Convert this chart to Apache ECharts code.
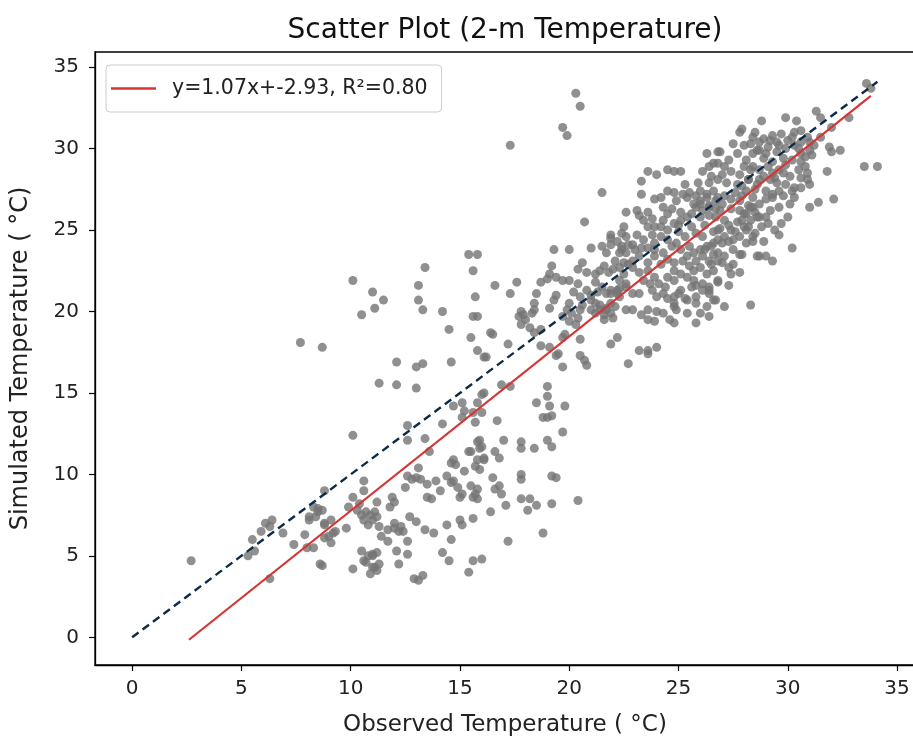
<!DOCTYPE html>
<html>
<head>
<meta charset="utf-8">
<script src="https://cdn.jsdelivr.net/npm/echarts@6/dist/echarts.min.js"></script>
<style>
html,body{margin:0;padding:0;background:#fff;}
#chart{width:913px;height:738px;}
</style>
</head>
<body>
<div id="chart"></div>
<script>
// Observed vs simulated 2-m temperature (°C)
const lowPoints = [
[2.7,4.7],[5.3,5.0],[5.6,5.3],[5.5,6.0],[5.9,6.5],[6.1,7.0],[6.4,7.2],[6.3,6.8],[6.9,6.4],[7.4,5.7],[6.3,3.6],
[7.9,6.3],[8.1,7.2],[8.4,7.4],[8.5,7.9],[8.7,7.8],[8.8,9.0],[8.0,5.5],[8.3,5.5],[8.6,4.5],[8.8,6.1],[9.1,5.8],
[9.0,6.2],[9.3,6.5],[9.1,7.2],[8.8,7.0],[8.7,4.4],[8.8,6.9],[9.2,6.4],[8.3,8.0],[8.5,7.7],[8.1,7.4],[9.8,6.7],
[9.9,8.0],[10.1,8.6],[10.4,8.2],[10.3,7.8],[10.5,7.5],[10.7,7.7],[10.6,7.2],[10.8,6.9],[11.0,7.2],[10.9,7.5],
[11.1,7.7],[11.2,7.4],[10.6,9.0],[10.6,9.6],[11.2,8.3],[11.9,8.6],[12.0,8.3],[11.8,8.0],[11.3,6.8],[11.4,6.2],
[11.7,6.6],[12.0,7.0],[12.0,6.7],[12.3,6.8],[12.4,6.5],[11.7,5.9],[12.2,6.5],[12.7,7.4],[13.0,7.1],
[12.9,3.6],[13.1,3.5],[13.3,3.8],[13.4,6.6],[13.8,6.4],[12.6,5.9],[12.1,5.3],[12.6,5.1],[12.2,4.5],[11.3,4.5],
[11.1,4.3],[10.9,3.9],[10.1,4.2],[10.5,5.3],[10.6,4.7],[11.0,5.0],[11.2,5.2],[10.8,5.0],[11.0,5.1],[10.7,4.6],
[11.0,4.3],[11.2,4.1],[7.7,18.1],[8.7,17.8],[10.1,12.4]
];
const midPoints = [
[15.4,23.5],[15.8,23.5],[15.6,22.5],[13.4,22.7],[10.1,21.9],[11.0,21.2],[11.5,20.7],[11.1,20.2],[10.5,19.8],
[13.1,21.6],[13.1,20.7],[13.3,20.1],[14.2,20.0],[14.5,18.9],[15.7,20.9],[15.6,19.7],[15.8,19.7],[15.5,18.4],
[15.8,17.6],[16.1,17.2],[16.4,18.7],[16.6,21.6],[17.3,21.1],[17.6,21.8],[17.2,18.0],[12.1,16.9],[13.0,16.6],
[13.3,16.8],[14.6,16.9],[11.3,15.6],[12.1,15.5],[13.0,15.3],[12.6,13.0],[12.6,12.1],[13.4,12.2],[14.2,13.1],
[13.6,11.4],[14.7,14.2],[15.1,14.4],[15.2,13.9],[15.8,14.4],[15.6,13.8],[16.0,14.9],[16.0,13.8],[15.7,13.2],
[16.7,13.3],[16.9,15.5],[17.3,15.4],[15.9,12.1],[16.0,11.7],[17.0,12.1],[15.4,11.4],[16.1,10.9],[14.7,10.9],
[14.6,10.7],[14.8,10.6],[15.2,10.2],[15.7,10.5],[15.9,10.3],[14.4,9.9],[14.6,9.5],[13.9,9.6],[14.1,9.0],
[12.6,9.9],[12.8,9.7],[13.0,9.8],[13.2,9.7],[12.5,9.2],[13.5,9.4],[13.5,8.6],[13.7,8.5],[14.7,9.6],[14.9,9.2],
[15.1,8.8],[15.0,8.6],[15.5,9.3],[15.7,8.8],[15.8,9.1],[15.6,8.6],[15.8,8.5],[16.5,9.8],[16.8,9.3],[16.6,9.1],
[16.9,8.8],[16.4,7.7],[17.1,8.1],[17.8,10.0],[17.8,9.7],[17.8,12.0],[17.8,11.6],[18.4,11.6],[19.0,12.1],
[19.2,11.7],[19.0,15.4],[19.0,14.8],[19.1,14.2],[18.5,14.4],[18.8,13.5],[19.0,13.5],[19.2,13.6],[19.8,14.2],
[19.7,12.6],[17.8,8.5],[18.2,8.5],[18.1,7.8],[18.5,8.1],[19.2,9.9],[19.4,9.8],[19.2,8.2],[18.8,6.4],[17.2,5.9],
[20.4,8.4],[15.6,7.3],[15.0,7.2],[15.1,6.9],[14.4,6.9],[14.6,6.0],[14.2,5.2],[14.5,4.7],[15.6,4.7],[16.0,4.8],
[15.4,4.0],[15.1,13.5],[15.8,12.0],[15.9,11.6],[15.8,10.9],[16.1,11.0],[15.5,11.4],[13.1,10.4],[16.6,11.4],
[16.8,11.0],[16.2,17.2],[16.1,15.0]
];
const upperPoints = [
[20.3,33.4],[20.5,32.6],[19.7,31.3],[19.9,30.8],[17.3,30.2],[21.5,27.3],[20.7,25.5],[22.6,26.1],[22.5,25.2],
[22.4,24.8],[22.6,24.6],[21.9,24.5],[21.5,24.0],[21.0,23.9],[22.4,23.8],[20.0,23.8],[19.3,23.8],[20.6,23.0],
[22.1,23.1],[21.6,22.8],[21.4,22.5],[21.8,22.4],[22.3,22.7],[22.5,22.3],[22.7,22.9],[19.2,22.8],[19.1,22.3],
[19.4,22.1],[19.7,21.9],[19.0,22.0],[18.7,21.8],[20.0,21.9],[20.4,21.7],[21.2,21.8],[21.5,21.5],[21.7,21.1],
[21.9,21.3],[22.2,21.1],[22.3,21.4],[22.6,21.7],[18.5,21.1],[19.4,21.0],[19.3,20.7],[19.1,20.2],[20.2,21.2],
[20.5,20.9],[20.8,21.3],[21.0,21.0],[20.0,20.5],[19.9,20.1],[19.7,19.7],[20.1,19.9],[20.5,20.1],[18.4,20.5],
[18.4,20.1],[18.3,19.9],[17.8,20.0],[17.7,19.7],[17.9,19.8],[18.0,19.5],[17.8,19.2],[21.0,20.1],[21.2,19.9],
[21.4,20.1],[21.6,19.8],[21.7,20.1],[21.9,19.9],[22.0,19.6],[21.6,19.5],[22.1,20.3],[21.9,20.5],[22.6,20.1],
[20.0,19.4],[20.3,19.2],[20.4,19.6],[18.2,19.0],[18.4,18.7],[18.7,18.9],[16.5,18.6],[18.7,17.9],[19.1,17.8],
[19.7,18.4],[19.8,18.6],[20.5,18.3],[19.5,17.4],[19.4,17.3],[20.5,17.3],[20.7,17.0],[20.8,16.7],[19.7,16.6],
[21.9,18.0],[22.2,18.4],[22.7,16.8],[23.6,17.6],[23.2,17.6],[23.6,17.4],[24.0,17.8],
[21.0,20.7],[21.2,20.5],[21.4,20.4],[21.7,20.2],[21.9,24.7],[22.2,24.3],[21.9,24.1],[22.4,24.0],[22.3,23.6],
[22.6,23.6],[21.7,23.6],[22.5,23.0],[22.9,23.1],[22.3,21.9],[22.6,21.5],[22.2,21.3],[21.9,21.1],[22.3,20.9],
[22.0,22.6],[21.2,22.3],[20.8,22.4],[20.4,22.6],[21.3,21.2],[20.6,20.4]
];
const densePoints = [
[26.3,29.7],[26.8,29.8],[26.1,28.6],[26.4,28.9],[26.8,29.1],[23.6,28.6],[24.0,28.4],[24.5,28.7],[24.8,28.6],
[25.1,28.6],[23.3,28.0],[23.3,27.2],[23.9,26.9],[24.3,26.4],[24.5,27.4],[24.8,27.3],[24.9,26.8],[25.3,27.8],
[25.5,27.3],[25.8,27.1],[25.4,27.0],[25.7,26.6],[26.0,26.8],[26.3,27.2],[26.6,27.4],[26.8,27.0],[25.8,26.4],
[26.1,26.2],[26.4,26.5],[26.7,26.3],[26.0,25.8],[26.4,25.9],[23.1,26.2],[23.2,25.9],[23.6,26.1],[23.4,25.6],
[23.8,25.7],[23.9,25.2],[23.6,25.2],[24.5,26.0],[24.3,25.6],[24.8,25.4],[25.1,25.6],[25.4,25.8],[25.6,25.2],
[24.5,25.0],[25.0,24.9],[25.3,24.6],[25.8,24.8],[26.1,24.6],[26.6,24.9],[26.8,25.0],[23.1,24.7],[23.4,24.4],
[22.9,24.1],[23.3,23.9],[23.6,23.9],[23.9,24.2],[24.2,24.6],[24.5,24.4],[24.7,24.0],[24.9,24.2],[25.1,23.8],
[25.5,24.0],[25.7,23.6],[26.0,23.8],[26.3,24.0],[26.6,24.2],[26.8,23.6],[23.2,23.4],[23.6,23.0],[23.9,23.4],
[24.3,23.6],[24.5,23.2],[24.8,23.0],[25.2,23.1],[25.5,22.8],[25.8,23.1],[26.1,23.4],[26.4,23.1],[26.8,23.1],
[22.9,22.7],[23.2,22.4],[23.6,22.5],[23.9,22.1],[23.4,21.9],[24.1,21.7],[24.5,22.1],[24.8,21.9],[25.1,22.3],
[25.4,22.1],[25.7,22.5],[26.0,22.7],[26.3,22.3],[26.6,22.5],[25.7,21.9],[26.1,21.7],[26.4,21.5],[26.8,21.9],
[22.9,21.1],[23.2,21.1],[23.8,21.3],[24.0,20.9],[24.3,21.1],[24.8,20.9],[25.1,21.3],[25.4,20.7],[25.8,20.9],
[26.1,21.3],[26.4,21.1],[22.9,20.1],[23.3,19.8],[23.6,20.1],[24.0,20.0],[23.6,19.5],[23.9,19.4],[24.3,19.9],
[24.6,19.5],[24.9,20.1],[25.3,20.8],[24.8,20.3],[25.4,19.9],[25.8,20.5],[26.3,20.3],[26.6,20.7],[26.0,19.9],
[26.4,19.7],[24.8,19.3],[25.8,19.3],[28.3,20.4],[27.1,20.3],[26.7,20.7],[26.4,21.3],[26.8,21.8],[27.3,21.6],
[25.8,21.6],[24.8,20.5],[25.0,21.1],[24.5,20.8],[27.5,22.9],[27.4,22.3],[27.3,24.3],[27.1,23.4],[27.5,23.8],
[27.8,23.5],[28.6,23.4],[28.1,25.0],[28.4,24.6],[28.4,26.4],[28.6,25.8],[28.1,26.0],[27.5,30.3],[26.9,29.8],
[27.8,31.0],[28.4,30.7],[28.6,29.9],[28.1,29.3],[28.4,28.9],[26.6,29.1],[27.1,28.9],[27.4,28.6],[27.8,28.4],
[26.4,27.9],[26.8,28.1],[27.2,27.9],[27.7,27.8],[28.2,28.1],[26.0,27.4],[26.3,27.0],[26.7,26.8],[27.1,27.1],
[27.4,26.9],[27.9,27.1],[26.0,26.6],[26.4,26.4],[26.9,26.2],[27.4,26.3],[27.8,26.2],[28.2,26.5],[26.7,25.8],
[27.1,25.6],[27.7,25.5],[28.0,25.2],[26.9,25.1],[27.4,25.0],[26.8,24.4],[26.5,24.0],[27.5,24.4],[27.8,24.6],
[27.1,24.6],
[24.2,27.0],[24.7,26.3],[25.1,26.1],[25.6,26.0],[25.2,27.2],[25.9,27.9],[26.5,28.3],[27.0,28.4],[27.3,29.3],
[27.7,29.7],[28.0,30.2],[28.3,30.3],[27.0,26.6],[27.6,27.3],[27.9,27.7],[26.2,25.3],[27.3,25.3],[25.0,25.3],
[24.2,25.2],[23.8,24.7],[23.0,23.8],[23.9,23.8],[22.7,24.1],[25.4,23.4],[26.2,23.8],[26.5,22.9],[27.0,23.0],
[27.3,22.7],[26.6,23.5],[24.2,22.9],[24.8,22.5],[23.7,21.7],[24.4,21.5],[25.6,21.5]
];
const topPoints = [
[33.6,34.0],[33.8,33.7],[29.9,31.9],[30.4,31.7],[31.3,32.3],[31.5,31.9],[32.8,31.9],[32.0,31.3],[28.8,31.7],
[27.9,31.2],[28.5,31.0],[28.9,30.6],[29.2,30.5],[28.7,30.4],[29.3,30.8],[29.7,30.9],[30.3,31.0],[30.6,31.1],
[30.9,30.7],[30.6,30.4],[30.2,30.7],[31.5,30.7],[31.2,30.2],[31.0,29.9],[30.8,29.5],[31.1,29.6],[30.6,29.7],
[30.3,30.2],[29.9,30.0],[29.5,29.8],[29.6,30.2],[29.1,30.1],[28.7,29.9],[28.4,29.7],[28.9,29.4],[29.3,29.2],
[29.8,29.4],[30.2,29.3],[31.9,30.1],[32.4,29.9],[32.0,29.8],[33.5,28.9],[34.1,28.9],[31.8,28.6],[30.5,28.7],
[30.8,28.9],[30.9,28.5],[30.9,28.1],[31.0,27.8],[30.6,28.2],[30.1,28.3],[30.3,27.6],[30.2,27.4],[29.8,28.5],
[29.6,28.7],[29.3,28.5],[29.1,28.9],[28.7,28.7],[28.3,28.7],[28.0,28.9],[28.2,28.1],[28.7,28.1],[29.2,28.1],
[29.5,27.9],[29.9,27.8],[29.6,27.4],[29.3,27.2],[29.0,27.4],[28.5,27.5],[28.1,27.4],[30.3,27.0],[30.1,26.6],
[29.3,27.0],[29.6,26.4],[29.2,26.2],[28.7,26.6],[28.4,27.0],[28.3,26.4],[28.0,26.0],[28.7,25.8],[29.0,25.8],
[30.0,25.8],[29.7,25.4],[29.4,25.0],[29.6,24.7],[28.8,25.2],[28.5,24.8],[28.2,25.2],[27.9,25.6],[28.4,24.3],
[28.1,24.2],[27.9,23.5],[28.7,23.4],[29.0,23.4],[29.3,23.1],[27.8,22.4],[30.2,23.9],[31.0,26.4],[31.4,26.7],
[32.1,26.9],
[29.0,29.7],[29.5,30.4],[30.0,30.5],[30.5,30.0],[31.0,30.4],[29.9,29.0],[30.6,29.2],[29.4,28.2],[28.9,28.3],
[28.6,27.8],[27.8,26.8],[29.0,26.9],[29.8,27.1],[30.6,27.6],[28.5,26.1],[29.1,25.4],[28.3,25.6],[27.6,24.9],
[27.0,24.2],[28.9,24.3]
];
// Reference lines
const oneToOneX = [0, 34.1];
const oneToOneY = [0, 34.1];
const fitX = [2.6, 33.8];
const fitY = [-0.15, 33.24];
const fitLabel = 'y=1.07x+-2.93, R\u00B2=0.80';
const xTicks = [0, 5, 10, 15, 20, 25, 30, 35];
const yTicks = [0, 5, 10, 15, 20, 25, 30, 35];

const allPoints = lowPoints.concat(midPoints, upperPoints, densePoints, topPoints);
const FONT = 'DejaVu Sans';

const chart = echarts.init(document.getElementById('chart'), null, {renderer: 'canvas'});
chart.setOption({
  animation: false,
  backgroundColor: '#ffffff',
  title: {
    text: 'Scatter Plot (2-m Temperature)',
    left: 500, top: 12, textAlign: 'center',
    textStyle: {fontFamily: FONT, fontSize: 28, fontWeight: 'normal', color: '#111'}
  },
  legend: {
    data: [{name: fitLabel, icon: 'rect'}],
    left: 106, top: 65,
    orient: 'vertical',
    padding: [13, 14, 13, 5],
    itemWidth: 45, itemHeight: 2.5,
    borderColor: '#cccccc', borderWidth: 1, borderRadius: 4,
    backgroundColor: 'rgba(255,255,255,0.85)',
    itemStyle: {color: '#d63535'},
    textStyle: {fontFamily: FONT, fontSize: 20.5, color: '#222', padding: [0, 0, 0, 11], lineHeight: 21}
  },
  grid: {
    left: 95, top: 52, width: 820, height: 613,
    show: true, borderColor: '#000', borderWidth: 1.3,
    containLabel: false, outerBoundsMode: 'none'
  },
  xAxis: {
    type: 'value', min: -1.7, max: 35.82,
    name: 'Observed Temperature ( \u00B0C)', nameLocation: 'middle', nameGap: 49,
    nameTextStyle: {fontFamily: FONT, fontSize: 23, color: '#222'},
    axisLine: {show: true, onZero: false, lineStyle: {color: '#000', width: 1.3}},
    axisTick: {show: true, length: 6, customValues: xTicks, lineStyle: {color: '#000', width: 1.2}},
    axisLabel: {customValues: xTicks, fontFamily: FONT, fontSize: 20, color: '#222', margin: 14},
    splitLine: {show: false}
  },
  yAxis: {
    type: 'value', min: -1.7, max: 35.93,
    name: 'Simulated Temperature ( \u00B0C)', nameLocation: 'middle', nameGap: 62,
    nameTextStyle: {fontFamily: FONT, fontSize: 24, color: '#222'},
    axisLine: {show: true, onZero: false, lineStyle: {color: '#000', width: 1.3}},
    axisTick: {show: true, length: 6, customValues: yTicks, lineStyle: {color: '#000', width: 1.2}},
    axisLabel: {customValues: yTicks, fontFamily: FONT, fontSize: 20, color: '#222', margin: 16},
    splitLine: {show: false}
  },
  series: [
    {
      name: 'observations', type: 'scatter', data: allPoints,
      symbol: 'circle', symbolSize: 9,
      itemStyle: {color: '#747474'}, z: 2, silent: true
    },
    {
      name: '1:1', type: 'line', data: oneToOneX.map((x, i) => [x, oneToOneY[i]]),
      showSymbol: false, symbol: 'none',
      lineStyle: {color: '#0c2b47', width: 2.4, type: [8, 5]}, z: 3
    },
    {
      name: fitLabel, type: 'line', data: fitX.map((x, i) => [x, fitY[i]]),
      showSymbol: false, symbol: 'none',
      lineStyle: {color: '#d63535', width: 2.2}, itemStyle: {color: '#d63535'}, z: 4
    }
  ]
});
</script>
</body>
</html>
